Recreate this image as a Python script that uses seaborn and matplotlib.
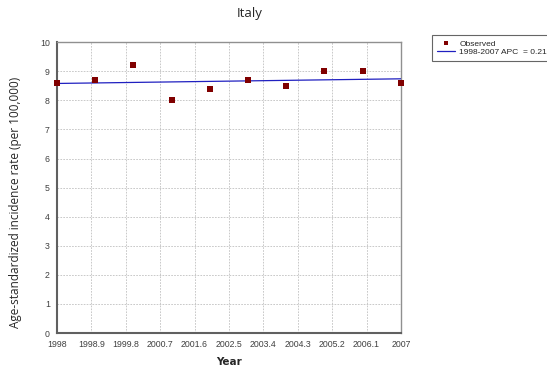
import numpy as np
import pandas as pd
import matplotlib.pyplot as plt
import seaborn as sns

# 数据
years = [1998, 1999, 2000, 2001, 2002, 2003, 2004, 2005, 2006, 2007]
observed = [8.6, 8.7, 9.2, 8.0, 8.4, 8.7, 8.5, 9.0, 9.0, 8.6]
fit_years = [1998, 2007]
fit_values = [8.58, 8.74]
x_ticks = [1998, 1998.9, 1999.8, 2000.7, 2001.6, 2002.5, 2003.4, 2004.3, 2005.2, 2006.1, 2007]
y_ticks = [0, 1, 2, 3, 4, 5, 6, 7, 8, 9, 10]

sns.set_style("white")
plt.rcParams["font.family"] = ["Liberation Sans", "DejaVu Sans"]

df_obs = pd.DataFrame({"year": years, "rate": observed})
df_fit = pd.DataFrame({"year": fit_years, "rate": fit_values})

fig = plt.figure(figsize=(5.47, 3.73), dpi=100)
ax = fig.add_axes([0.104, 0.107, 0.629, 0.78])

sns.lineplot(data=df_fit, x="year", y="rate", ax=ax, color="#2020c0",
             linewidth=0.9, label="1998-2007 APC  = 0.21", zorder=3)
sns.scatterplot(data=df_obs, x="year", y="rate", ax=ax, marker="s", s=14,
                color="#800000", edgecolor="#800000", linewidth=0,
                label="Observed", zorder=4, clip_on=False)

ax.set_xlim(1998, 2007)
ax.set_ylim(0, 10)
ax.set_xticks(x_ticks)
ax.set_xticklabels([f"{t:g}" for t in x_ticks])
ax.set_yticks(y_ticks)
ax.tick_params(labelsize=6.3, colors="#404040", length=2, pad=3)
ax.grid(True, linestyle=(0, (2, 1.5)), color="#c0c0c0", linewidth=0.6)

for s in ax.spines.values():
    s.set_color("#909090")
    s.set_linewidth(1.0)
ax.spines["left"].set_color("#606060")
ax.spines["bottom"].set_color("#606060")
ax.spines["left"].set_linewidth(1.5)
ax.spines["bottom"].set_linewidth(1.5)

ax.set_xlabel("Year", fontsize=7.5, fontweight="bold", fontfamily=["DejaVu Sans"], labelpad=6)
ax.set_ylabel("Age-standardized incidence rate (per 100,000)", fontsize=8.5,
              fontfamily=["Open Sans", "DejaVu Sans"])
ax.yaxis.set_label_coords(-0.1, 0.448)
fig.text(0.457, 0.965, "Italy", ha="center", va="center", fontsize=9.5,
         fontfamily=["Open Sans", "DejaVu Sans"])

handles, labels = ax.get_legend_handles_labels()
order = [1, 0]
leg = fig.legend([handles[i] for i in order], [labels[i] for i in order],
                 loc="upper left", bbox_to_anchor=(0.782, 0.918), fontsize=6,
                 frameon=True, fancybox=False, edgecolor="#404040",
                 handlelength=2.2, borderpad=0.6, labelspacing=0.05,
                 handletextpad=0.5, markerscale=0.7)
leg.get_frame().set_linewidth(0.8)
if ax.get_legend():
    ax.get_legend().remove()

fig.savefig("out.png", dpi=100)
